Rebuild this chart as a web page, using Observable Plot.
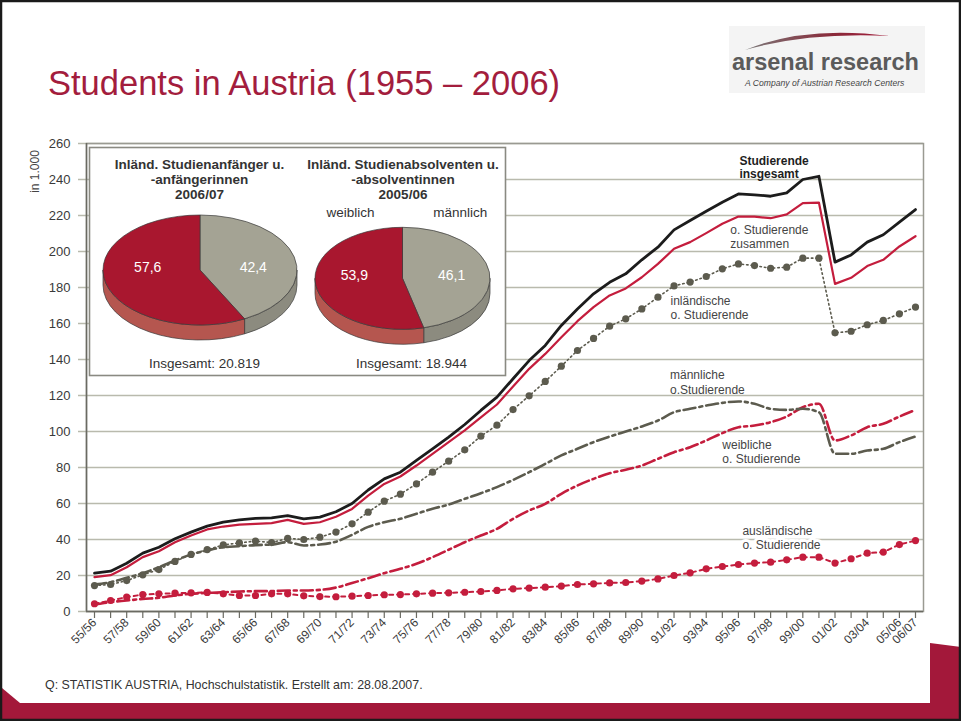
<!DOCTYPE html>
<html><head><meta charset="utf-8">
<script src="https://cdn.jsdelivr.net/npm/d3@7"></script>
<script src="https://cdn.jsdelivr.net/npm/@observablehq/plot@0.6"></script>
<style>
html,body{margin:0;padding:0;background:#fff;}
#slide{position:relative;width:961px;height:721px;overflow:hidden;background:#fff;font-family:"Liberation Sans",Arial,sans-serif;}
#deco{position:absolute;left:0;top:0;}
#chart{position:absolute;left:0;top:130px;}
#inset{position:absolute;left:89px;top:147px;}
svg text{font-family:"Liberation Sans",Arial,sans-serif;}
</style>
</head><body>
<div id="slide">
<svg id="deco" width="961" height="721">
  <defs><linearGradient id="sw" x1="0" x2="1" y1="0" y2="0"><stop offset="0" stop-color="#7a7a7a"/><stop offset="0.6" stop-color="#8a2a3a"/><stop offset="1" stop-color="#a31c3a"/></linearGradient></defs>
  <rect x="729" y="26" width="196" height="67" fill="#f4f4f4"/>
  <path d="M745,50 Q805,25 890,36 Q808,32 745,50 Z" fill="url(#sw)"/>
  <text x="732" y="70" font-size="23.5" font-weight="bold" fill="#5b5b5b">arsenal research</text>
  <text x="745" y="86" font-size="8.6" font-style="italic" fill="#444">A Company of Austrian Research Centers</text>
  <text x="48" y="95" font-size="34.5" fill="#a31d3d">Students in Austria (1955 – 2006)</text>
  <text transform="translate(39,171.5) rotate(-90)" text-anchor="middle" font-size="12" fill="#444">in 1.000</text>
  <text x="45" y="689" font-size="12.4" fill="#333">Q: STATISTIK AUSTRIA, Hochschulstatistik. Erstellt am: 28.08.2007.</text>
  <polygon points="930,643 961,647 961,721 930,721" fill="#a3183a"/>
  <rect x="0" y="703" width="961" height="18" fill="#a3183a"/>
  <polygon points="2,688 20,703 2,703" fill="#a3183a"/>
  <rect x="1" y="1" width="959" height="719" fill="none" stroke="#1a1a1a" stroke-width="2.5"/>
</svg>
<div id="chart"></div>
<div id="inset"></div>
</div>
<script>
// ---------- data ----------
const years = [1955,1956,1957,1958,1959,1960,1961,1962,1963,1964,1965,1966,1967,1968,1969,
  1970,1971,1972,1973,1974,1975,1976,1977,1978,1979,1980,1981,1982,1983,1984,1985,1986,1987,1988,
  1989,1990,1991,1992,1993,1994,1995,1996,1997,1998,1999,2000,2001,2002,2003,2004,2005,2006];

const studierendeInsgesamt = [21.3,22.4,26.8,32.4,35.7,40.4,44.1,47.4,49.6,50.9,51.7,52.0,53.3,51.5,52.4,
  55.4,60.0,67.5,73.7,77.4,83.9,90.4,96.9,103.9,111.7,119.1,129.3,139.4,147.8,158.9,168.1,176.5,182.9,187.6,
  195.4,202.4,212.0,217.2,222.4,227.4,232.0,231.5,230.7,232.6,240.0,241.8,194.1,198.1,205.2,209.3,216.3,223.3];

const ordStudierendeZusammen = [19.1,20.2,24.6,30.2,33.5,38.5,42.2,45.6,47.2,48.3,48.7,49.1,50.9,48.7,49.6,
  52.6,57.0,64.4,70.9,75.0,81.1,87.6,94.1,100.6,107.9,115.0,125.0,134.8,143.1,152.4,161.3,169.1,175.6,179.5,
  185.7,193.1,201.5,205.2,210.2,215.4,219.4,219.4,218.5,220.6,226.9,227.2,182.0,185.4,191.9,195.4,202.8,208.5];

const inlaendische = [14.4,15.0,17.2,20.4,23.3,27.8,31.7,34.4,37.0,38.1,39.1,38.3,40.6,40.0,41.3,
  44.1,48.7,55.2,61.3,65.2,70.9,77.4,83.5,89.8,97.4,103.5,112.2,119.8,127.8,136.3,145.0,151.7,158.5,162.6,
  168.1,174.6,180.9,183.0,186.1,190.4,193.1,192.2,190.7,191.3,196.3,196.3,154.8,155.7,159.3,161.7,165.4,169.1];

const maennliche = [15.0,16.3,18.7,21.3,24.6,28.3,31.7,33.9,35.7,36.3,36.9,37.2,38.5,36.7,37.2,
  38.8,42.6,47.0,49.6,51.5,54.3,57.1,59.4,62.6,65.7,69.1,73.1,77.4,82.0,86.7,90.4,94.1,97.2,100.0,
  102.8,106.1,110.7,112.6,114.4,115.9,116.7,115.4,112.6,112.0,112.6,110.7,87.6,87.6,89.4,90.4,94.1,97.2];

const weibliche = [3.9,5.2,6.1,7.0,7.6,8.9,9.8,10.4,10.7,11.1,11.3,11.3,11.7,11.7,12.0,
  13.3,15.8,18.5,21.3,23.7,26.5,30.2,34.3,38.5,42.2,45.9,51.5,56.1,59.8,65.4,70.0,73.7,76.8,78.8,
  81.1,84.8,88.5,91.3,95.0,99.1,102.4,103.3,105.2,108.3,113.5,115.4,95.0,97.8,102.4,104.3,108.3,112.0];

const auslaendische = [4.3,6.1,8.0,9.4,9.8,10.2,10.4,10.6,9.8,8.9,8.9,9.8,9.8,8.7,8.3,
  8.2,8.5,8.9,9.3,9.4,9.8,10.2,10.4,10.7,11.1,11.7,12.6,13.0,13.5,14.1,15.0,15.4,15.9,16.1,
  16.9,18.1,20.0,21.5,23.7,25.0,26.1,26.9,27.4,28.7,30.2,30.2,26.9,29.3,32.4,33.0,37.2,39.4];

const yTicks = [0,20,40,60,80,100,120,140,160,180,200,220,240,260];
const xLabelYears = [1955,1957,1959,1961,1963,1965,1967,1969,1971,1973,1975,1977,1979,1981,1983,1985,
  1987,1989,1991,1993,1995,1997,1999,2001,2003,2005,2006];
const xLabels = ["55/56","57/58","59/60","61/62","63/64","65/66","67/68","69/70","71/72","73/74","75/76","77/78",
  "79/80","81/82","83/84","85/86","87/88","89/90","91/92","93/94","95/96","97/98","99/00","01/02","03/04","05/06","06/07"];

const seriesLabels = ["Studierende\ninsgesamt","o. Studierende\nzusammen","inländische\no. Studierende",
  "männliche\no.Studierende","weibliche\no. Studierende","ausländische\no. Studierende"];

const pieCategories = ["weiblich","männlich"];
const pieStudienanfaenger = [57.6, 42.4];
const pieAbsolventen = [53.9, 46.1];
const pieTitles = ["Inländ. Studienanfänger u.\n-anfängerinnen\n2006/07","Inländ. Studienabsolventen u.\n-absolventinnen\n2005/06"];
const pieTotals = ["Insgesamt: 20.819","Insgesamt: 18.944"];

// ---------- styles ----------
const FONT = "Liberation Sans, Arial, sans-serif";
const GRID = "#b9baad", FRAME = "#9a9a92", AXIS = "#6a6a62";
const RED = "#c41d3d", GRAY = "#5c5b4e", BLACK = "#1c1c1c", TXT = "#454545";

const toRows = arr => years.map((year, i) => ({year, value: arr[i]}));
const labelOf = new Map(xLabelYears.map((y, i) => [y, xLabels[i]]));

// annotation placement (left edge year, vertical middle value)
const annoPos = [
  {x: 1995.06, y: 246.9, bold: true,  fill: "#1e1e1e"},
  {x: 1994.5,  y: 208.3, bold: false, fill: TXT},
  {x: 1990.78, y: 168.9, bold: false, fill: TXT},
  {x: 1990.75, y: 127.5, bold: false, fill: TXT},
  {x: 1994.0,  y: 88.9,  bold: false, fill: TXT},
  {x: 1995.25, y: 41.1,  bold: false, fill: TXT, halo: true}
];
const annos = seriesLabels.map((text, i) => ({text, ...annoPos[i]}));

const main = Plot.plot({
  width: 961, height: 530,
  marginLeft: 86, marginRight: 38, marginTop: 13, marginBottom: 49,
  x: {type: "linear", domain: [1955, 2006], insetLeft: 8, insetRight: 8},
  y: {type: "linear", domain: [0, 260]},
  style: {fontFamily: FONT, background: "transparent", overflow: "visible"},
  marks: [
    Plot.ruleY(yTicks, {stroke: GRID, strokeWidth: 1.5, insetLeft: -8}),
    Plot.frame({stroke: FRAME, strokeWidth: 1.5}),
    Plot.ruleX([1955], {dx: -8, stroke: AXIS, strokeWidth: 1.5}),
    Plot.ruleY([0], {stroke: AXIS, strokeWidth: 1.5}),
    Plot.axisY({ticks: yTicks, tickSize: 0, tickPadding: 16, fontSize: 13, color: "#3a3a3a", label: null}),
    Plot.axisX({ticks: years, tickSize: 7, tickFormat: () => "", stroke: AXIS, strokeWidth: 1.2, label: null}),
    Plot.axisX({ticks: xLabelYears, tickFormat: d => labelOf.get(d), tickSize: 0, tickPadding: 9, tickRotate: -45,
      fontSize: 12, color: "#3a3a3a", label: null}),
    // ausländische
    Plot.line(toRows(auslaendische), {x: "year", y: "value", stroke: RED, strokeWidth: 2, strokeDasharray: "4,4"}),
    Plot.dot(toRows(auslaendische), {x: "year", y: "value", r: 3.6, fill: RED}),
    // weibliche
    Plot.line(toRows(weibliche), {x: "year", y: "value", stroke: RED, strokeWidth: 2.6, strokeDasharray: "12,4,3,4", curve: "monotone-x"}),
    // männliche
    Plot.line(toRows(maennliche), {x: "year", y: "value", stroke: GRAY, strokeWidth: 2.6, strokeDasharray: "12,4,3,4", curve: "monotone-x"}),
    // inländische
    Plot.line(toRows(inlaendische), {x: "year", y: "value", stroke: GRAY, strokeWidth: 1.6, strokeDasharray: "1.5,3"}),
    Plot.dot(toRows(inlaendische), {x: "year", y: "value", r: 3.6, fill: GRAY}),
    // ord. Studierende zusammen
    Plot.line(toRows(ordStudierendeZusammen), {x: "year", y: "value", stroke: RED, strokeWidth: 2.2}),
    // insgesamt
    Plot.line(toRows(studierendeInsgesamt), {x: "year", y: "value", stroke: BLACK, strokeWidth: 2.8}),
    // annotations
    Plot.text(annos.filter(d => d.halo), {x: "x", y: "y", text: "text", textAnchor: "start", lineAnchor: "middle",
      lineHeight: 1.17, fontSize: 12, fill: "fill", stroke: "white", strokeWidth: 6}),
    Plot.text(annos.filter(d => !d.halo && !d.bold), {x: "x", y: "y", text: "text", textAnchor: "start", lineAnchor: "middle",
      lineHeight: 1.17, fontSize: 12, fill: "fill"}),
    Plot.text(annos.filter(d => d.bold), {x: "x", y: "y", text: "text", textAnchor: "start", lineAnchor: "middle",
      lineHeight: 1.1, fontSize: 12, fontWeight: "bold", fill: "fill"})
  ]
});
document.getElementById("chart").appendChild(main);

// ---------- inset with pies ----------
const W = 416, H = 228;
const pieLayout = [
  {cx: 111, cy: 123, rx: 97, ry: 55, depth: 15, values: pieStudienanfaenger},
  {cx: 313.5, cy: 131.3, rx: 87.5, ry: 51, depth: 15, values: pieAbsolventen}
];
const TOP = {"weiblich": "#a9172f", "männlich": "#a4a394"};
const SIDE = {"weiblich": "#b5564f", "männlich": "#8c8b7f"};

// slices drawn clockwise from 12 o'clock: männlich first, then weiblich
const pieArcs = pieLayout.map(p => {
  const slices = [{cat: pieCategories[1], value: p.values[1]}, {cat: pieCategories[0], value: p.values[0]}];
  return d3.pie().sort(null).value(d => d.value)(slices);
});

const pieLabels = [];
pieLayout.forEach((p, k) => {
  pieArcs[k].forEach(a => {
    const mid = (a.startAngle + a.endAngle) / 2;
    pieLabels.push({x: p.cx + 0.56 * p.rx * Math.sin(mid), y: p.cy - 3,
      text: String(a.data.value).replace(".", ",")});
  });
});

function pieMark(index, scales) {
  const sx = scales && scales.x ? scales.x : (v => v);
  const sy = scales && scales.y ? scales.y : (v => v);
  const g = d3.create("svg:g");
  pieLayout.forEach((p, k) => {
    const cx = sx(p.cx), cy = sy(p.cy), rx = p.rx, ry = p.ry, dz = p.depth;
    const P = (a, d = 0) => [cx + rx * Math.sin(a), cy - ry * Math.cos(a) + d];
    const arcs = pieArcs[k];
    // sides (front half only)
    arcs.forEach(a => {
      const b0 = Math.max(a.startAngle, Math.PI / 2), b1 = Math.min(a.endAngle, 3 * Math.PI / 2);
      if (b1 <= b0) return;
      const [x0, y0] = P(b0), [x1, y1] = P(b1), [x1d, y1d] = P(b1, dz), [x0d, y0d] = P(b0, dz);
      const large = (b1 - b0) > Math.PI ? 1 : 0;
      g.append("path")
        .attr("d", `M${x0},${y0}A${rx},${ry} 0 ${large} 1 ${x1},${y1}L${x1d},${y1d}A${rx},${ry} 0 ${large} 0 ${x0d},${y0d}Z`)
        .attr("fill", SIDE[a.data.cat]).attr("stroke", "#3a3a3a").attr("stroke-width", 0.7);
    });
    // top face
    arcs.forEach(a => {
      const [x0, y0] = P(a.startAngle), [x1, y1] = P(a.endAngle);
      const large = (a.endAngle - a.startAngle) > Math.PI ? 1 : 0;
      g.append("path")
        .attr("d", `M${cx},${cy}L${x0},${y0}A${rx},${ry} 0 ${large} 1 ${x1},${y1}Z`)
        .attr("fill", TOP[a.data.cat]).attr("stroke", "#3a3a3a").attr("stroke-width", 0.7);
    });
  });
  return g.node();
}

const inset = Plot.plot({
  width: W, height: H,
  margin: 0,
  x: {type: "linear", domain: [0, W], range: [0, W], axis: null},
  y: {type: "linear", domain: [0, H], range: [0, H], axis: null},
  style: {fontFamily: FONT, background: "white", overflow: "visible"},
  marks: [
    Plot.frame({stroke: "#8a8a82", strokeWidth: 1.6}),
    pieMark,
    Plot.text(pieLabels, {x: "x", y: "y", text: "text", fill: "white", fontSize: 14}),
    Plot.text(pieTitles, {x: [110, 313.5], y: [32, 32], text: d => d, fontSize: 13.5, fontWeight: "bold",
      fill: "#333", lineHeight: 1.12, lineAnchor: "middle"}),
    Plot.text(pieCategories, {x: [261, 370.7], y: [65.5, 65.5], text: d => d, fontSize: 13.5, fill: "#333"}),
    Plot.text(pieTotals, {x: [115, 322], y: [216.3, 216.3], text: d => d, fontSize: 13.5, fill: "#333"})
  ]
});
document.getElementById("inset").appendChild(inset);
</script>
</body></html>
